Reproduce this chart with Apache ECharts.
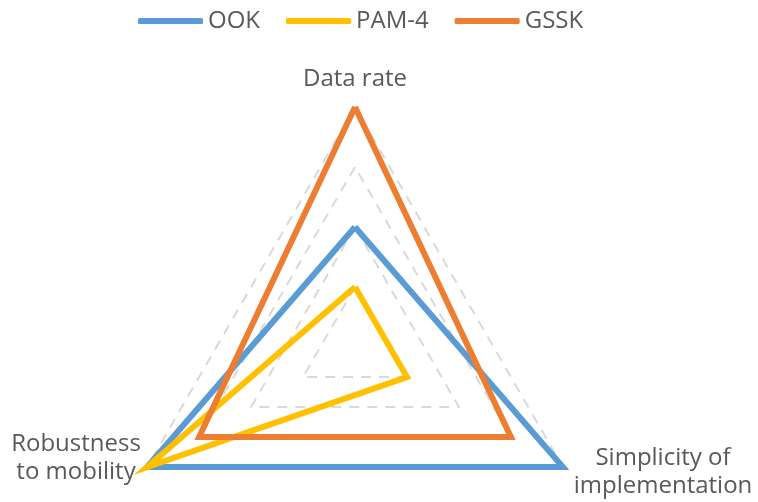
<!DOCTYPE html>
<html><head><meta charset="utf-8">
<script src="https://cdn.jsdelivr.net/npm/echarts@6/dist/echarts.min.js"></script>
<style>html,body{margin:0;padding:0;background:#fff}#c{width:758px;height:502px}</style>
</head><body><div id="c"></div>
<script>
const indicators = ['Data rate', 'Robustness\nto mobility', 'Simplicity of\nimplementation'];
const maxValue = 4;
const seriesNames = ['OOK', 'PAM-4', 'GSSK'];
const ook = [2, 4, 4];
const pam4 = [1, 4, 1];
const gssk = [4, 3, 3];
const colors = ['#5B9BD5', '#FFC000', '#ED7D31'];

const chart = echarts.init(document.getElementById('c'));
const font = '"Open Sans", sans-serif';
const labelPos = [[355, 79], [76, 458], [663, 472]];
chart.setOption({
  animation: false,
  color: colors,
  legend: {
    top: 4, left: 133,
    icon: 'roundRect', itemWidth: 65, itemHeight: 6, itemGap: 26,
    textStyle: {fontFamily: font, fontSize: 24, color: '#595959'},
    data: seriesNames
  },
  graphic: indicators.map((n, i) => ({
    type: 'text', x: labelPos[i][0], y: labelPos[i][1], silent: true,
    style: {text: n, fontFamily: font, fontSize: 24, lineHeight: 28, fill: '#595959',
      align: 'center', verticalAlign: 'middle'}
  })),
  radar: {
    center: [355, 347], radius: 240, startAngle: 90,
    shape: 'polygon', splitNumber: 4,
    indicator: indicators.map(n => ({name: n, max: maxValue, min: 0})),
    axisName: {show: false},
    axisLine: {show: false},
    axisTick: {show: false},
    axisLabel: {show: false},
    splitArea: {show: false},
    splitLine: {lineStyle: {type: [10, 8], color: '#d9d9d9', width: 2}}
  },
  series: [{
    type: 'radar', symbol: 'none',
    lineStyle: {width: 6, join: 'miter'},
    data: [
      {name: 'OOK', value: ook, lineStyle: {color: colors[0], width: 6}, itemStyle: {color: colors[0]}},
      {name: 'PAM-4', value: pam4, lineStyle: {color: colors[1], width: 6}, itemStyle: {color: colors[1]}},
      {name: 'GSSK', value: gssk, lineStyle: {color: colors[2], width: 6}, itemStyle: {color: colors[2]}}
    ]
  }]
});
</script></body></html>
